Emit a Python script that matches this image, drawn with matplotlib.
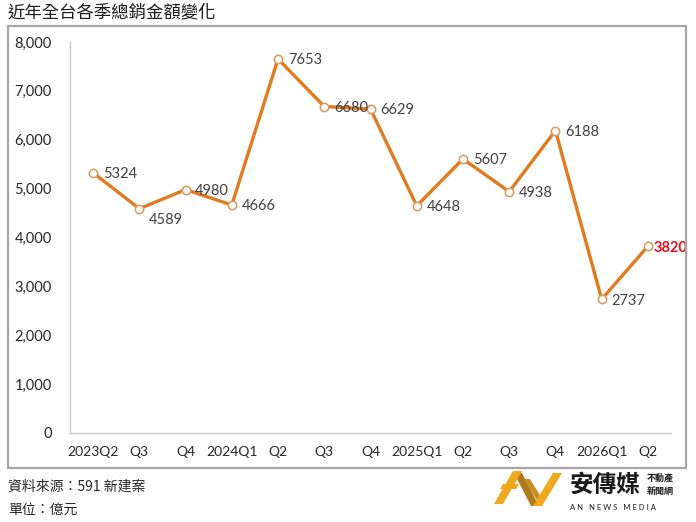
import matplotlib
matplotlib.use("Agg")
import matplotlib.pyplot as plt
from matplotlib.patches import Rectangle, Polygon
from matplotlib.ticker import FuncFormatter

categories = ["2023Q2", "Q3", "Q4", "2024Q1", "Q2", "Q3", "Q4",
              "2025Q1", "Q2", "Q3", "Q4", "2026Q1", "Q2"]
values = [5324, 4589, 4980, 4666, 7653, 6680, 6629, 4648, 5607, 4938, 6188, 2737, 3820]
yticks = [0, 1000, 2000, 3000, 4000, 5000, 6000, 7000, 8000]

title = "近年全台各季總銷金額變化"
source = "資料來源：591 新建案"
unit = "單位：億元"

plt.rcParams['font.family'] = ['Lato', 'Noto Sans CJK TC', 'DejaVu Sans']
CJK = ['Noto Sans CJK TC', 'DejaVu Sans']

W, H = 696, 522
fig = plt.figure(figsize=(6.96, 5.22), dpi=100)

def fx(px):
    return px / W

def fy(py):
    return 1 - py / H

# outer frame
fig.patches.append(Rectangle((fx(8), fy(468)), fx(686) - fx(8), fy(26) - fy(468),
                             transform=fig.transFigure, fill=False,
                             edgecolor="#A6A6A6", linewidth=1.6))

ax = fig.add_axes([fx(70), fy(433), fx(671) - fx(70), fy(42) - fy(433)])
x = list(range(len(categories)))
line_color = "#E07B1F"
ax.plot(x, values, color=line_color, linewidth=2.4, zorder=2)
ax.plot(x, values, linestyle="none", marker="o", markersize=6,
        markerfacecolor="white", markeredgecolor="#D99A5E", markeredgewidth=1.1, zorder=3)

ax.set_xlim(-0.5, len(categories) - 0.5)
ax.set_ylim(0, 8000)
ax.set_yticks(yticks)
ax.yaxis.set_major_formatter(FuncFormatter(lambda v, p: f"{int(v):,}"))
ax.set_xticks(x)
ax.set_xticklabels(categories)
ax.tick_params(axis="y", length=0, pad=13, labelsize=10.5, labelcolor="#262626")
ax.tick_params(axis="x", length=0, pad=9, labelsize=10, labelcolor="#262626")
for s in ["top", "right"]:
    ax.spines[s].set_visible(False)
for s in ["left", "bottom"]:
    ax.spines[s].set_color("#C8C8C8")
    ax.spines[s].set_linewidth(1.0)

for i, v in enumerate(values):
    dy = -8 if i == 1 else -1
    if i == len(values) - 1:
        ax.annotate(f"{v}", (i, v), xytext=(4, -1), textcoords="offset points",
                    ha="left", va="center", fontsize=10.5, color="#E0101E",
                    fontweight="bold")
    else:
        ax.annotate(f"{v}", (i, v), xytext=(7, dy), textcoords="offset points",
                    ha="left", va="center", fontsize=10.5, color="#404040")

# title and footer
fig.text(fx(8), fy(12), title, fontsize=12.5, color="#1A1A1A", family=CJK,
         ha="left", va="center")
fig.text(fx(8), fy(487), source, fontsize=10, color="#262626", family=CJK,
         ha="left", va="center")
fig.text(fx(8), fy(510), unit, fontsize=10, color="#262626", family=CJK,
         ha="left", va="center")

# logo
gold = "#F2A81D"
brown = "#B07A1A"
def para(pts, color):
    fig.patches.append(Polygon([(fx(a), fy(b)) for a, b in pts], closed=True,
                               transform=fig.transFigure, facecolor=color,
                               edgecolor="none"))
para([(514, 473), (522, 473), (539, 506), (531, 506)], brown)
para([(524, 479), (530, 479), (544, 502), (538, 502)], "#C98E22")
para([(494, 504), (503, 504), (522, 471), (513, 471)], gold)
para([(503, 484), (519, 484), (516, 489), (500, 489)], gold)
para([(533, 506), (542, 506), (562, 473), (553, 473)], gold)
fig.text(fx(570), fy(485), "安傳媒", fontsize=17, fontweight="bold",
         color="#1A1A1A", family=CJK, ha="left", va="center")
fig.text(fx(647), fy(478), "不動產", fontsize=6.5, fontweight="bold",
         color="#1A1A1A", family=CJK, ha="left", va="center")
fig.text(fx(647), fy(491), "新聞網", fontsize=6.5, fontweight="bold",
         color="#1A1A1A", family=CJK, ha="left", va="center")
fig.text(fx(570), fy(507), "A N   N E W S   M E D I A", fontsize=5.5,
         color="#1A1A1A", ha="left", va="center")

fig.savefig("out.png", dpi=100)
